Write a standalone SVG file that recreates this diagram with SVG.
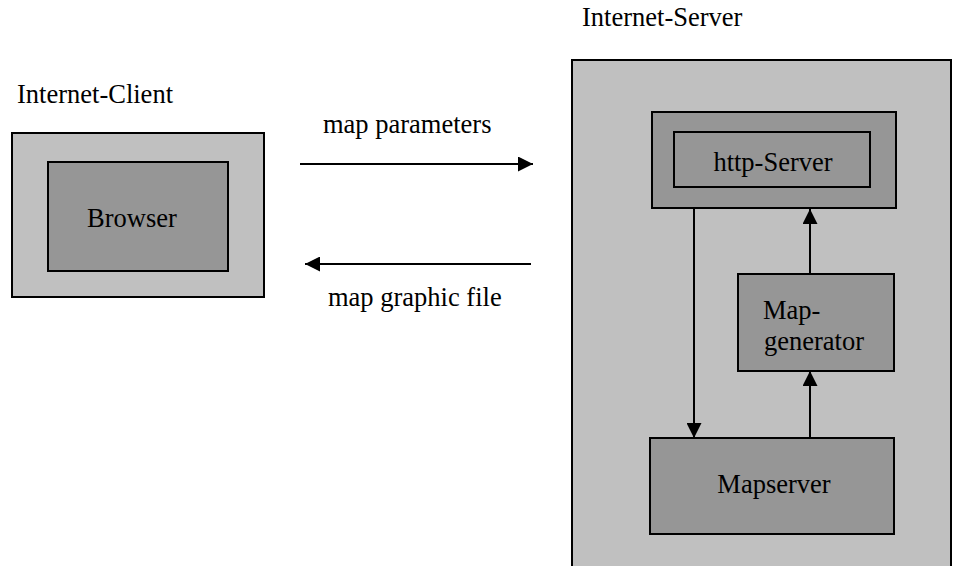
<svg xmlns="http://www.w3.org/2000/svg" width="953" height="566" viewBox="0 0 953 566">
<defs>
<style>
.outer{fill:#c0c0c0;stroke:#000;stroke-width:2}
.inner{fill:#969696;stroke:#000;stroke-width:2}
.lbl{font-family:"Liberation Serif","Times New Roman",serif;font-size:26.5px;fill:#000}
.conn{stroke:#000;stroke-width:2;fill:none}
</style>
<marker id="ah" viewBox="0 0 15 15" refX="15" refY="7.5" markerWidth="15" markerHeight="15" markerUnits="userSpaceOnUse" orient="auto">
<path d="M0,0 L15,7.5 L0,15 Z" fill="#000"/>
</marker>
</defs>
<rect width="953" height="566" fill="#fff"/>
<g id="client">
<text class="lbl" x="17" y="103">Internet-Client</text>
<rect class="outer" x="12" y="133" width="252" height="164"/>
</g>
<g id="browser">
<rect class="inner" x="48" y="162" width="180" height="109"/>
<text class="lbl" x="132" y="227" text-anchor="middle">Browser</text>
</g>
<g id="server">
<text class="lbl" x="582" y="26">Internet-Server</text>
<rect class="outer" x="572" y="60" width="379" height="530"/>
</g>
<g id="http-server">
<rect class="inner" x="652" y="112" width="244" height="96"/>
<rect class="inner" x="674" y="132" width="196" height="55"/>
<text class="lbl" x="773" y="171" text-anchor="middle">http-Server</text>
</g>
<g id="map-generator">
<rect class="inner" x="738" y="274" width="156" height="97"/>
<text class="lbl" x="763" y="319">Map-</text>
<text class="lbl" x="764" y="350">generator</text>
</g>
<g id="mapserver">
<rect class="inner" x="650" y="438" width="244" height="96"/>
<text class="lbl" x="774" y="493" text-anchor="middle">Mapserver</text>
</g>
<g id="connectors">
<line class="conn" x1="300" y1="164" x2="533" y2="164" marker-end="url(#ah)"/>
<text class="lbl" x="323" y="133">map parameters</text>
<line class="conn" x1="531" y1="264" x2="305" y2="264" marker-end="url(#ah)"/>
<text class="lbl" x="328" y="306">map graphic file</text>
<line class="conn" x1="694" y1="208" x2="694" y2="438" marker-end="url(#ah)"/>
<line class="conn" x1="810" y1="274" x2="810" y2="209" marker-end="url(#ah)"/>
<line class="conn" x1="810" y1="438" x2="810" y2="371" marker-end="url(#ah)"/>
</g>
</svg>
